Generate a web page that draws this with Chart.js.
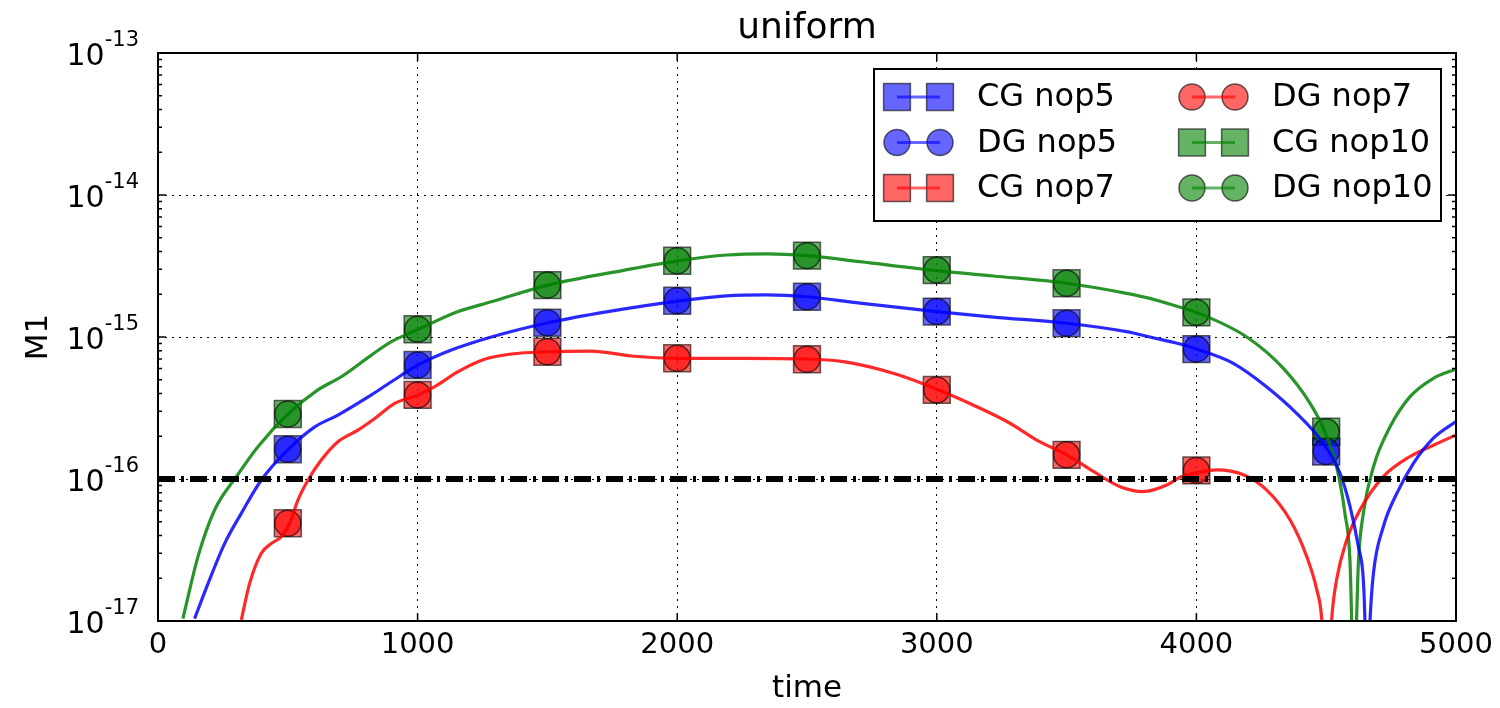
<!DOCTYPE html>
<html>
<head>
<meta charset="utf-8">
<script src="https://cdn.jsdelivr.net/npm/chart.js@4/dist/chart.umd.min.js"></script>
<style>
  html, body { margin: 0; padding: 0; background: #fff; }
  #wrap { position: relative; width: 1500px; height: 708px; }
</style>
</head>
<body>
<div id="wrap"><canvas id="chart"></canvas></div>
<script>
// sampled times (markers)
const markerTimes = [500, 1000, 1500, 2000, 2500, 3000, 3500, 4000, 4500];

// CG = squares, DG = circles
const cgNop5  = [1.62e-16, 6.35e-16, 1.26e-15, 1.80e-15, 1.92e-15, 1.51e-15, 1.25e-15, 8.22e-16, 1.56e-16];
const dgNop5  = [1.62e-16, 6.35e-16, 1.26e-15, 1.80e-15, 1.92e-15, 1.51e-15, 1.25e-15, 8.22e-16, 1.56e-16];
const cgNop7  = [4.88e-17, 3.91e-16, 7.87e-16, 7.08e-16, 6.97e-16, 4.24e-16, 1.48e-16, 1.15e-16, null];
const dgNop7  = [4.88e-17, 3.91e-16, 7.87e-16, 7.08e-16, 6.97e-16, 4.24e-16, 1.48e-16, 1.15e-16, null];
const cgNop10 = [2.87e-16, 1.135e-15, 2.32e-15, 3.44e-15, 3.74e-15, 2.96e-15, 2.39e-15, 1.49e-15, 2.15e-16];
const dgNop10 = [2.87e-16, 1.135e-15, 2.32e-15, 3.44e-15, 3.74e-15, 2.96e-15, 2.39e-15, 1.49e-15, 2.15e-16];

// continuous M1 curves
const timeNop5 = [141, 193, 257, 321, 398, 501, 604, 693, 822, 899, 1002, 1130, 1284, 1502, 1733,
  2003, 2191, 2345, 2499, 2704, 3000, 3218, 3500, 3731, 3821, 3937, 4001, 4142, 4270, 4386,
  4489, 4553, 4592, 4624, 4643, 4649, 4656, 4669, 4682, 4720, 4772, 4836, 4913, 5000];
const m1Nop5 = [1.04e-17, 1.84e-17, 3.52e-17, 5.73e-17, 9.84e-17, 1.61e-16, 2.33e-16, 2.82e-16, 3.91e-16, 4.84e-16,
  6.35e-16, 8.09e-16, 1.00e-15, 1.26e-15, 1.51e-15, 1.79e-15, 1.95e-15, 1.98e-15, 1.92e-15, 1.73e-15,
  1.51e-15, 1.38e-15, 1.25e-15, 1.09e-15, 1.00e-15, 8.93e-16, 8.22e-16, 6.53e-16, 4.47e-16, 2.90e-16,
  1.78e-16, 1.10e-16, 6.38e-17, 3.33e-17, 1.95e-17, 1.02e-17, 2e-18, 1.02e-17, 2.17e-17, 4.61e-17,
  7.92e-17, 1.29e-16, 1.94e-16, 2.54e-16];

const timeNop7 = [321, 353, 398, 437, 475, 507, 539, 578, 629, 693, 770, 835, 912, 1002, 1066,
  1156, 1258, 1361, 1502, 1669, 1823, 2003, 2255, 2499, 2640, 2832, 3000, 3154, 3282, 3385,
  3500, 3603, 3706, 3795, 3886, 3937, 4001, 4078, 4181, 4270, 4361, 4425, 4464, 4483, 4502,
  4521, 4540, 4579, 4630, 4720, 4823, 4913, 5000];
const m1Nop7 = [1.02e-17, 1.84e-17, 3.00e-17, 3.52e-17, 3.93e-17, 4.88e-17, 7.11e-17, 9.84e-17, 1.36e-16, 1.83e-16,
  2.21e-16, 2.67e-16, 3.41e-16, 3.91e-16, 4.47e-16, 5.70e-16, 6.97e-16, 7.59e-16, 7.87e-16, 7.96e-16,
  7.35e-16, 7.08e-16, 7.08e-16, 7.00e-16, 6.70e-16, 5.55e-16, 4.29e-16, 3.23e-16, 2.47e-16, 1.88e-16,
  1.48e-16, 1.13e-16, 8.83e-17, 8.15e-17, 9.08e-17, 1.03e-16, 1.11e-16, 1.16e-16, 1.07e-16, 8.38e-17,
  5.14e-17, 2.84e-17, 1.65e-17, 1.02e-17, 2e-18, 1.02e-17, 1.95e-17, 3.72e-17, 6.05e-17, 1.04e-16,
  1.44e-16, 1.73e-16, 2.04e-16];

const timeNop10 = [96, 154, 218, 302, 385, 501, 616, 706, 822, 899, 1002, 1156, 1284, 1502, 1798,
  2004, 2191, 2345, 2499, 2704, 3000, 3218, 3500, 3731, 3821, 3937, 4001, 4194, 4335, 4438,
  4495, 4540, 4572, 4592, 4598, 4607, 4617, 4624, 4643, 4682, 4746, 4823, 4913, 5000];
const m1Nop10 = [1.04e-17, 2.84e-17, 6.05e-17, 1.04e-16, 1.69e-16, 2.87e-16, 4.24e-16, 5.25e-16, 7.46e-16, 9.27e-16,
  1.13e-15, 1.51e-15, 1.77e-15, 2.32e-15, 2.96e-15, 3.44e-15, 3.78e-15, 3.85e-15, 3.74e-15, 3.39e-15,
  2.93e-15, 2.69e-15, 2.39e-15, 2.03e-15, 1.87e-15, 1.62e-15, 1.49e-15, 1.00e-15, 6.01e-16, 3.41e-16,
  2.15e-16, 1.22e-16, 5.73e-17, 2.55e-17, 1.02e-17, 2e-18, 1.02e-17, 2.55e-17, 5.73e-17, 1.22e-16,
  2.33e-16, 3.80e-16, 5.12e-16, 5.94e-16];

const threshold = 1e-16;
const xRange = [0, 5000];
const yTicks = [1e-17, 1e-16, 1e-15, 1e-14, 1e-13];
const xTicks = [0, 1000, 2000, 3000, 4000, 5000];

const FONT = '"DejaVu Sans", sans-serif';
const BLUE = [0, 0, 255], RED = [255, 0, 0], GREEN = [0, 128, 0];
const rgba = (c, a) => `rgba(${c[0]},${c[1]},${c[2]},${a})`;

const toPoints = (xs, ys) => xs.map((x, i) => ({ x, y: ys[i] })).filter(p => p.y != null);

function curve (xs, ys, c) {
  return {
    data: toPoints(xs, ys), showLine: true, pointRadius: 0, borderWidth: 3.2,
    borderColor: rgba(c, 0.84), cubicInterpolationMode: 'monotone', order: 2
  };
}

function markers (ys, c, style) {
  const square = style === 'rect';
  return {
    data: toPoints(markerTimes, ys), showLine: false, pointStyle: style,
    pointRadius: square ? 19 : 13, pointBorderWidth: 1.5,
    backgroundColor: rgba(c, 0.6), borderColor: 'rgba(0,0,0,0.6)',
    order: square ? 4 : 3
  };
}

const legendItems = [
  { label: 'CG nop5', c: BLUE, style: 'rect' },
  { label: 'DG nop5', c: BLUE, style: 'circle' },
  { label: 'CG nop7', c: RED, style: 'rect' },
  { label: 'DG nop7', c: RED, style: 'circle' },
  { label: 'CG nop10', c: GREEN, style: 'rect' },
  { label: 'DG nop10', c: GREEN, style: 'circle' }
];

function marker (ctx, x, y, c, style) {
  ctx.fillStyle = rgba(c, 0.6);
  ctx.strokeStyle = 'rgba(0,0,0,0.6)';
  ctx.lineWidth = 1.5;
  ctx.beginPath();
  if (style === 'rect') ctx.rect(x - 13.4, y - 13.4, 26.8, 26.8);
  else ctx.arc(x, y, 13, 0, Math.PI * 2);
  ctx.fill();
  ctx.stroke();
}

// axes frame, inward ticks, labels, title and legend
const decorations = {
  id: 'decorations',
  afterDraw (chart) {
    const { ctx, chartArea: a, scales: { x, y } } = chart;
    ctx.save();
    ctx.strokeStyle = '#000';
    ctx.lineWidth = 1.5;
    const seg = (x1, y1, x2, y2) => { ctx.beginPath(); ctx.moveTo(x1, y1); ctx.lineTo(x2, y2); ctx.stroke(); };

    xTicks.forEach(v => {
      const px = x.getPixelForValue(v);
      seg(px, a.bottom, px, a.bottom - 8);
      seg(px, a.top, px, a.top + 8);
    });
    yTicks.forEach((v, i) => {
      const py = y.getPixelForValue(v);
      seg(a.left, py, a.left + 8, py);
      seg(a.right, py, a.right - 8, py);
      if (i === yTicks.length - 1) return;
      for (let k = 2; k < 10; k++) {
        const pm = y.getPixelForValue(v * k);
        seg(a.left, pm, a.left + 4, pm);
        seg(a.right, pm, a.right - 4, pm);
      }
    });

    ctx.lineWidth = 2;
    ctx.strokeRect(a.left, a.top, a.right - a.left, a.bottom - a.top);

    ctx.fillStyle = '#000';
    // x tick labels
    ctx.font = `29px ${FONT}`;
    ctx.textAlign = 'center';
    ctx.textBaseline = 'alphabetic';
    xTicks.forEach(v => ctx.fillText(String(v), x.getPixelForValue(v), a.bottom + 32));

    // y tick labels, 10^n
    yTicks.forEach(v => {
      const py = y.getPixelForValue(v);
      const exp = String(Math.round(Math.log10(v)));
      const right = a.left - 19;
      ctx.textAlign = 'right';
      ctx.font = `21px ${FONT}`;
      ctx.fillText(exp, right, py - 7);
      const w = ctx.measureText(exp).width;
      ctx.font = `30px ${FONT}`;
      ctx.fillText('10', right - w, py + 12);
    });

    // axis titles
    ctx.textAlign = 'center';
    ctx.font = `31px ${FONT}`;
    ctx.fillText('time', (a.left + a.right) / 2, a.bottom + 76);
    ctx.save();
    ctx.translate(47, (a.top + a.bottom) / 2);
    ctx.rotate(-Math.PI / 2);
    ctx.fillText('M1', 0, 0);
    ctx.restore();

    // chart title
    ctx.font = `36px ${FONT}`;
    ctx.fillText('uniform', (a.left + a.right) / 2, a.top - 15);

    // legend
    const bx = a.right - 582, by = a.top + 16, bw = 567, bh = 152;
    ctx.fillStyle = '#fff';
    ctx.fillRect(bx, by, bw, bh);
    ctx.lineWidth = 2;
    ctx.strokeStyle = '#000';
    ctx.strokeRect(bx, by, bw, bh);
    const colX = [bx + 23, bx + 318];
    const rowY = [by + 28, by + 73.5, by + 119];
    legendItems.forEach((it, i) => {
      const cx = colX[Math.floor(i / 3)];
      const cy = rowY[i % 3];
      marker(ctx, cx, cy, it.c, it.style);
      marker(ctx, cx + 43, cy, it.c, it.style);
      ctx.strokeStyle = rgba(it.c, 0.6);
      ctx.lineWidth = 3;
      seg(cx, cy, cx + 43, cy);
      ctx.fillStyle = '#000';
      ctx.font = `32px ${FONT}`;
      ctx.textAlign = 'left';
      ctx.textBaseline = 'middle';
      ctx.fillText(it.label, cx + 80, cy + 1);
      ctx.textBaseline = 'alphabetic';
    });
    ctx.restore();
  }
};

new Chart(document.getElementById('chart'), {
  type: 'scatter',
  data: {
    datasets: [
      {
        data: toPoints(xRange, [threshold, threshold]), showLine: true, pointRadius: 0,
        borderColor: '#000', borderWidth: 6, borderDash: [17, 6, 3, 6], order: 1
      },
      curve(timeNop5, m1Nop5, BLUE),
      curve(timeNop7, m1Nop7, RED),
      curve(timeNop10, m1Nop10, GREEN),
      markers(dgNop5, BLUE, 'circle'),
      markers(dgNop7, RED, 'circle'),
      markers(dgNop10, GREEN, 'circle'),
      markers(cgNop5, BLUE, 'rect'),
      markers(cgNop7, RED, 'rect'),
      markers(cgNop10, GREEN, 'rect')
    ]
  },
  options: {
    responsive: true,
    maintainAspectRatio: false,
    animation: false,
    events: [],
    layout: { padding: { left: 158, right: 44, top: 53, bottom: 87 } },
    plugins: { legend: { display: false }, tooltip: { enabled: false }, title: { display: false } },
    scales: {
      x: {
        type: 'linear', min: xRange[0], max: xRange[1],
        ticks: { display: false, stepSize: 1000 },
        grid: { color: '#000', lineWidth: 1, drawTicks: false },
        border: { display: false, dash: [2, 5] }
      },
      y: {
        type: 'logarithmic', min: yTicks[0], max: yTicks[yTicks.length - 1],
        afterBuildTicks: axis => { axis.ticks = yTicks.map(v => ({ value: v })); },
        ticks: { display: false },
        grid: { color: '#000', lineWidth: 1, drawTicks: false },
        border: { display: false, dash: [2, 5] }
      }
    }
  },
  plugins: [decorations]
});
</script>
</body>
</html>
